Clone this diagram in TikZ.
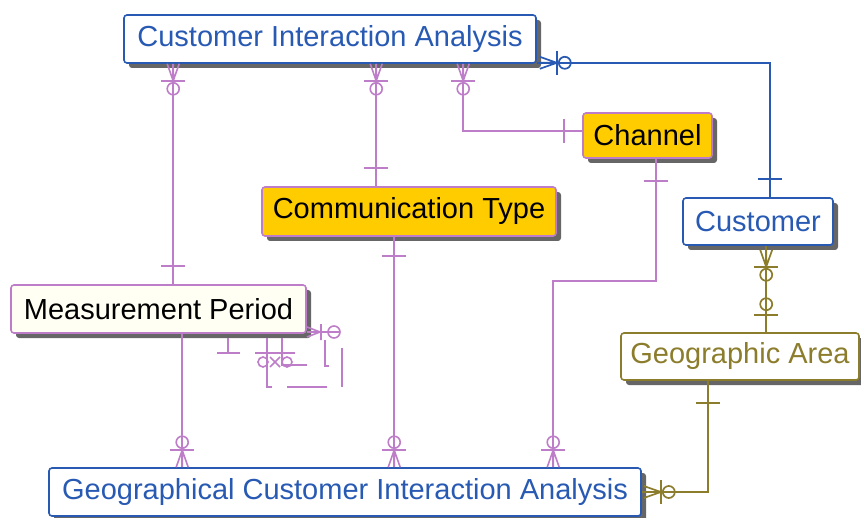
\documentclass[tikz,border=0pt]{standalone}
\usepackage{fontspec}
\setmainfont{Liberation Sans}
\usetikzlibrary{shadows}
\definecolor{eblue}{RGB}{40,90,180}
\definecolor{lilac}{RGB}{190,125,200}
\definecolor{gold}{RGB}{255,204,0}
\definecolor{olive}{RGB}{140,125,45}
\definecolor{cream}{RGB}{255,255,244}
\tikzset{
  ent/.style={draw, rounded corners=3pt, line width=1.6pt, inner sep=0pt,
    font=\fontsize{29}{30}\selectfont,
    drop shadow={shadow xshift=5pt, shadow yshift=-5pt, fill=black!60, opacity=1}},
  bluebox/.style={ent, draw=eblue, text=eblue, fill=white},
  goldbox/.style={ent, draw=lilac, text=black, fill=gold},
  lil/.style={color=lilac, line width=1.6pt},
  blu/.style={color=eblue, line width=1.7pt},
  oli/.style={color=olive, line width=1.7pt},
  zmany/.pic={
    \draw (0,-6) -- (17,0) (0,0) -- (17,0) (0,6) -- (17,0);
    \draw (17,-12) -- (17,12);
    \draw (17,0) -- (31,0);
    \draw (25,0) circle[radius=6pt];},
  onebar/.pic={\draw (18,-12) -- (18,12);},
  zone/.pic={
    \draw (17,-12) -- (17,12);
    \draw (0,0) -- (34,0);
    \draw (28,0) circle[radius=6pt];}
}
\begin{document}
\begin{tikzpicture}[x=1pt,y=-1pt]
\useasboundingbox (0,0) rectangle (861,518);
% entities
\node[bluebox, minimum width=412pt, minimum height=48pt] (cia) at (330,39) {Customer Interaction Analysis};
\node[goldbox, minimum width=129pt, minimum height=45pt] (ch) at (647.5,135.5) {Channel};
\node[goldbox, minimum width=294pt, minimum height=49pt] (ct) at (409,211.5) {Communication Type};
\node[bluebox, minimum width=150pt, minimum height=47pt] (cu) at (758,221.5) {Customer};
\node[ent, draw=lilac, fill=cream, text=black, minimum width=295pt, minimum height=48pt] (mp) at (158.5,309) {Measurement Period};
\node[ent, draw=olive, fill=white, text=olive, minimum width=238pt, minimum height=47pt] (ga) at (740,356.5) {Geographic Area};
\node[bluebox, minimum width=592pt, minimum height=48pt] (gcia) at (345,492) {Geographical Customer Interaction Analysis};

% MP -> CIA
\draw[lil] ([xshift=50pt]cia.south west) -- ([xshift=163pt]mp.north west);
\pic[lil, rotate=-90] at ([xshift=50pt]cia.south west) {zmany};
\pic[lil, rotate=90] at ([xshift=163pt]mp.north west) {onebar};
% CT -> CIA
\draw[lil] ([xshift=253pt]cia.south west) -- ([xshift=115pt]ct.north west);
\pic[lil, rotate=-90] at ([xshift=253pt]cia.south west) {zmany};
\pic[lil, rotate=90] at ([xshift=115pt]ct.north west) {onebar};
% Channel -> CIA
\draw[lil] ([xshift=340pt]cia.south west) |- ([yshift=4.5pt]ch.west);
\pic[lil, rotate=-90] at ([xshift=340pt]cia.south west) {zmany};
\pic[lil, rotate=180] at ([yshift=4.5pt]ch.west) {onebar};
% Customer -> CIA
\draw[blu] ([yshift=1pt]cia.south east) -| ([xshift=88pt]cu.north west);
\pic[blu] at ([xshift=3pt,yshift=1pt]cia.south east) {zmany};
\pic[blu, rotate=90] at ([xshift=88pt]cu.north west) {onebar};
% Geographic Area -> Customer
\draw[oli] ([xshift=84pt]cu.south west) -- ([xshift=146pt]ga.north west);
\pic[oli, rotate=-90] at ([xshift=84pt,yshift=-4pt]cu.south west) {zmany};
\pic[oli, rotate=90] at ([xshift=146pt]ga.north west) {zone};
% Geographic Area -> GCIA
\draw[oli] ([xshift=88pt]ga.south west) |- (gcia.east);
\pic[oli, rotate=-90] at ([xshift=88pt,yshift=-4pt]ga.south west) {onebar};
\pic[oli] at ([xshift=2pt]gcia.east) {zmany};
% MP -> GCIA
\draw[lil] ([xshift=172pt]mp.south west) -- ([xshift=134pt]gcia.north west);
\pic[lil, rotate=90] at ([xshift=134pt]gcia.north west) {zmany};
% CT -> GCIA
\draw[lil] ([xshift=133pt]ct.south west) -- ([xshift=346pt]gcia.north west);
\pic[lil, rotate=-90] at ([xshift=133pt,yshift=-1pt]ct.south west) {onebar};
\pic[lil, rotate=90] at ([xshift=346pt]gcia.north west) {zmany};
% Channel -> GCIA
\draw[lil] ([xshift=74pt]ch.south west) -- ++(0,122) -| ([xshift=505pt]gcia.north west);
\pic[lil, rotate=-90] at ([xshift=74pt,yshift=-4pt]ch.south west) {onebar};
\pic[lil, rotate=90] at ([xshift=505pt]gcia.north west) {zmany};

% Measurement Period recursive relationships (as rendered)
\begin{scope}[lil]
\draw (228,338) -- (228,353) (217,353) -- (240,353);
\draw (267,338) -- (267,387) -- (272,387);
\draw (282,338) -- (282,365) -- (307,365);
\draw (255,353) -- (295,353);
\draw (263,362) circle[radius=5pt] (287,362) circle[radius=5pt];
\draw (270,357) -- (280,367) (270,367) -- (280,357);
\draw (307,327) -- (320,332) (307,337) -- (320,332) (307,332) -- (340,332) (321,324) -- (321,340);
\draw (334,332) circle[radius=6pt];
\draw (325,340) -- (325,366) -- (329,366);
\draw (342,348) -- (342,387);
\draw (287,387) -- (327,387);
\end{scope}
\end{tikzpicture}
\end{document}
